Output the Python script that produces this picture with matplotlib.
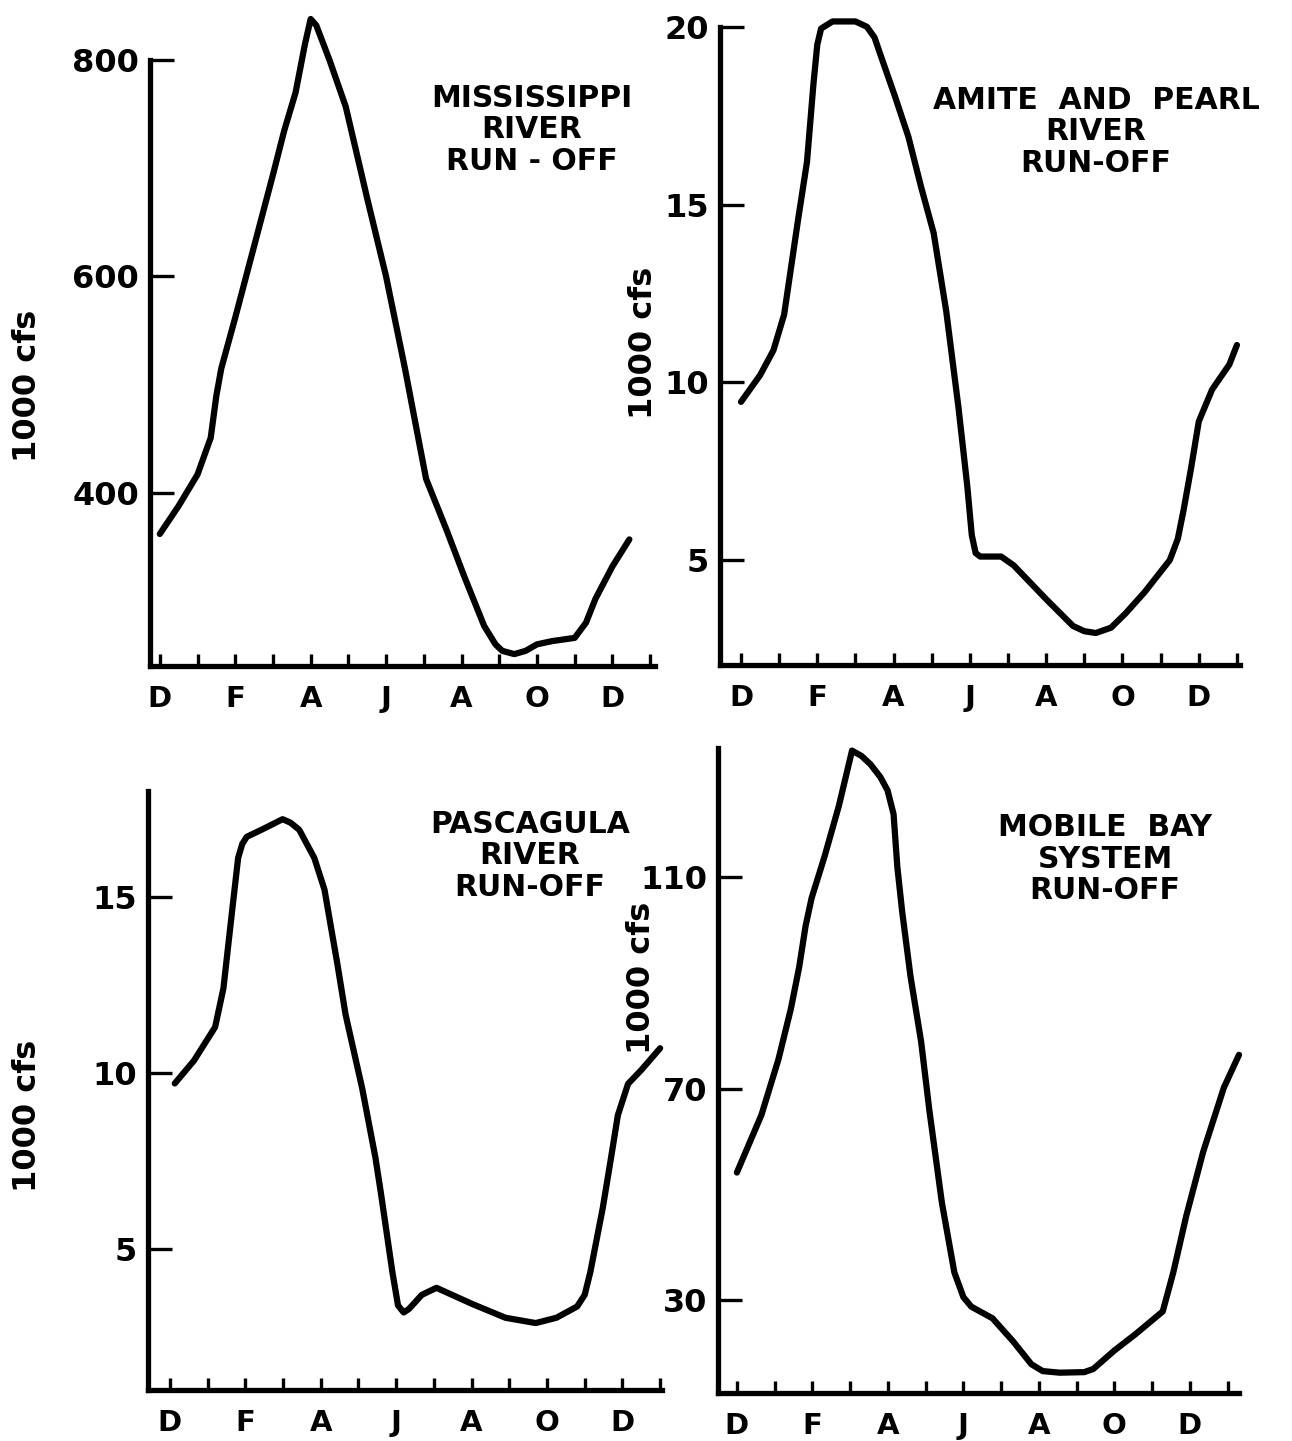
import matplotlib
matplotlib.use("Agg")
import matplotlib.pyplot as plt

# month index: 0 = December, 1 = January, ... 12 = December, 13 = January
month_ticks = list(range(14))
month_labels = ["D", "", "F", "", "A", "", "J", "", "A", "", "O", "", "D", ""]

# Mississippi River run-off (1000 cfs)
miss_x = [0, 0.5, 1, 1.35, 1.5, 1.63, 2, 2.5, 3, 3.3, 3.6, 3.85, 4, 4.15, 4.5, 4.93,
          5.5, 6, 6.5, 7.06, 7.6, 8.07, 8.6, 8.9, 9.08, 9.4, 9.7, 10, 10.4, 11,
          11.3, 11.55, 12, 12.45]
miss_y = [362, 388, 417, 451, 490, 515, 562, 628, 694, 735, 770, 815, 838, 832, 800, 757,
          672, 600, 515, 413, 366, 323, 277, 260, 254, 251, 254, 260, 263, 266,
          280, 302, 332, 357]

# Amite and Pearl River run-off
am_x = [0, 0.5, 0.85, 1.13, 1.5, 1.73, 1.9, 2.0, 2.1, 2.4, 3, 3.3, 3.5, 3.66, 4.05,
        4.39, 4.72, 5.05, 5.38, 5.7, 5.93, 6.05, 6.15, 6.27, 6.82, 7.15, 8, 8.7,
        9.0, 9.3, 9.7, 10.08, 10.58, 11.24, 11.45, 11.6, 11.8, 12.0, 12.35, 12.8, 13.0]
am_y = [9.45, 10.2, 10.9, 11.9, 14.6, 16.2, 18.4, 19.5, 19.95, 20.15, 20.15, 20.0, 19.7,
        19.2, 18.0, 16.9, 15.5, 14.2, 12.0, 9.3, 7.1, 5.7, 5.2, 5.1, 5.1, 4.85, 3.9,
        3.15, 3.0, 2.95, 3.1, 3.5, 4.1, 5.0, 5.6, 6.4, 7.6, 8.9, 9.8, 10.5, 11.05]

# Pascagula River run-off
pa_x = [0.13, 0.64, 1.2, 1.42, 1.64, 1.81, 1.92, 2.04, 2.43, 2.99, 3.2, 3.43, 3.83,
        4.1, 4.44, 4.66, 5.1, 5.45, 5.6, 5.9, 6.05, 6.2, 6.34, 6.68, 7.07, 8.02,
        8.9, 9.7, 10.25, 10.8, 11.0, 11.15, 11.48, 11.7, 11.88, 12.15, 12.5, 13.0]
pa_y = [9.7, 10.35, 11.3, 12.4, 14.5, 16.1, 16.5, 16.7, 16.9, 17.2, 17.1, 16.9, 16.1,
        15.2, 13.1, 11.65, 9.56, 7.6, 6.56, 4.35, 3.4, 3.2, 3.3, 3.7, 3.9, 3.44,
        3.05, 2.9, 3.05, 3.37, 3.7, 4.35, 6.17, 7.6, 8.8, 9.69, 10.08, 10.7]

# Mobile Bay system run-off
mb_x = [0, 0.65, 1.1, 1.43, 1.65, 1.82, 1.98, 2.32, 2.7, 3.05, 3.3, 3.54, 3.8, 3.99,
        4.15, 4.25, 4.38, 4.6, 4.88, 5.1, 5.43, 5.76, 6.0, 6.21, 6.77, 7.32, 7.8,
        8.1, 8.55, 9.2, 9.44, 10.0, 10.56, 11.28, 11.56, 11.9, 12.35, 12.9, 13.3]
mb_y = [54.1, 65.0, 75.5, 85.1, 93.0, 100.8, 106.1, 113.9, 123.5, 134.0, 133.0, 131.4,
        129.0, 126.5, 122.0, 112.0, 103.4, 91.2, 78.9, 65.8, 48.4, 35.2, 30.5, 28.7,
        26.5, 22.1, 17.8, 16.5, 16.2, 16.3, 16.9, 20.4, 23.5, 27.8, 35.2, 45.8, 58.0,
        70.2, 76.4]

W, H = 1292, 1441
plt.rcParams["font.family"] = "DejaVu Sans"
plt.rcParams["font.weight"] = "bold"
fig = plt.figure(figsize=(W / 100, H / 100), dpi=100)


def make_axes(l, r, t, b):
    return fig.add_axes([l / W, 1 - b / H, (r - l) / W, (b - t) / H])


def style(ax, x, y, xlim, ylim, yticks, ylabels, spine_top):
    ax.plot(x, y, color="black", lw=4.5, solid_capstyle="round",
            solid_joinstyle="round", clip_on=False)
    ax.set_xlim(*xlim)
    ax.set_ylim(*ylim)
    for s in ["top", "right"]:
        ax.spines[s].set_visible(False)
    ax.spines["left"].set_linewidth(3.8)
    ax.spines["bottom"].set_linewidth(3.8)
    ax.spines["left"].set_bounds(ylim[0], spine_top)
    ax.set_xticks(month_ticks)
    ax.set_xticklabels(month_labels)
    ax.set_yticks(yticks)
    ax.set_yticklabels(ylabels)
    ax.tick_params(axis="x", direction="in", length=9, width=2.4, pad=14,
                   labelsize=21)
    ax.tick_params(axis="y", direction="in", length=17, width=2.4, pad=8,
                   labelsize=23)
    for lab in ax.get_xticklabels() + ax.get_yticklabels():
        lab.set_fontweight("bold")
    ax.set_facecolor("none")


ax1 = make_axes(150, 655, 6, 666)
style(ax1, miss_x, miss_y, (-0.26, 13.13), (240, 850), [400, 600, 800],
      ["400", "600", "800"], 800)

ax2 = make_axes(720, 1240, 9, 665)
style(ax2, am_x, am_y, (-0.55, 13.08), (2.05, 20.5), [5, 10, 15, 20],
      ["5", "10", "15", "20"], 20)

ax3 = make_axes(148, 662, 791, 1390)
style(ax3, pa_x, pa_y, (-0.58, 13.05), (1.0, 18.0), [5, 10, 15],
      ["5", "10", "15"], 18)

ax4 = make_axes(718, 1239, 748, 1393)
style(ax4, mb_x, mb_y, (-0.5, 13.3), (12.35, 134.5), [30, 70, 110],
      ["30", "70", "110"], 134.5)

# axis titles
for (xp, yp) in [(28, 386), (643, 343), (28, 1116), (641, 978)]:
    fig.text(xp / W, 1 - yp / H, "1000 cfs", rotation=90, ha="center",
             va="center", fontsize=23, fontweight="bold")

# panel captions
captions = [
    (532, 130, "MISSISSIPPI\nRIVER\nRUN - OFF"),
    (1096, 132, "AMITE  AND  PEARL\nRIVER\nRUN-OFF"),
    (530, 856, "PASCAGULA\nRIVER\nRUN-OFF"),
    (1105, 859, "MOBILE  BAY\nSYSTEM\nRUN-OFF"),
]
for xp, yp, txt in captions:
    fig.text(xp / W, 1 - yp / H, txt, ha="center", va="center",
             fontsize=21.5, fontweight="bold", linespacing=1.12,
             multialignment="center")

fig.savefig("out.png", dpi=100, facecolor="white")
